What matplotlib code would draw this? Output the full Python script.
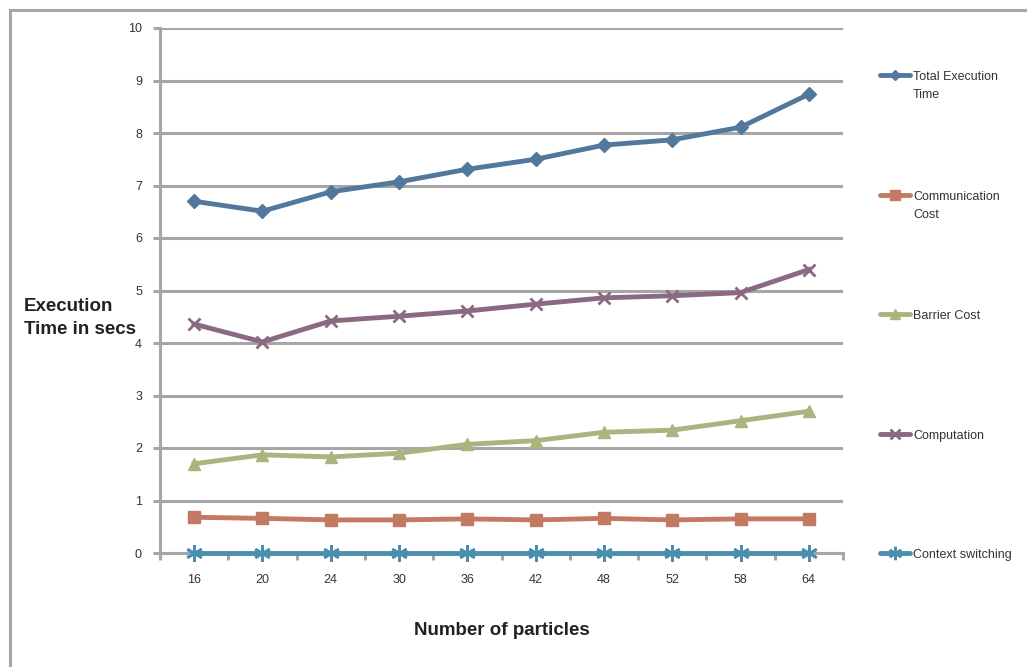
import matplotlib.pyplot as plt
from matplotlib.patches import Rectangle
from matplotlib.lines import Line2D

plt.rcParams["font.family"] = ["Liberation Sans", "DejaVu Sans"]

particles = ["16", "20", "24", "30", "36", "42", "48", "52", "58", "64"]
total_exec = [6.70, 6.51, 6.88, 7.07, 7.31, 7.50, 7.77, 7.87, 8.11, 8.74]
comm_cost = [0.68, 0.66, 0.63, 0.63, 0.65, 0.63, 0.66, 0.63, 0.65, 0.65]
barrier_cost = [1.70, 1.87, 1.83, 1.90, 2.07, 2.14, 2.30, 2.34, 2.52, 2.70]
computation = [4.36, 4.02, 4.42, 4.51, 4.61, 4.74, 4.86, 4.90, 4.96, 5.40]
context_sw = [0.0] * 10

series = [
    ("Total Execution\nTime", total_exec, "#52789e", "D", 7),
    ("Communication\nCost", comm_cost, "#c27a62", "s", 9),
    ("Barrier Cost", barrier_cost, "#a8b57f", "^", 9),
    ("Computation", computation, "#8a6a80", "x", 9),
    ("Context switching", context_sw, "#4a8fae", (6, 2, 0), 12),
]

W, H = 1027, 667
fig = plt.figure(figsize=(W / 100, H / 100), dpi=100)
ax = fig.add_axes([160 / W, 1 - 553 / H, 683 / W, 525 / H])

# outer chart frame
fig.add_artist(Rectangle((10 / W, -0.1), 1.2, 1 - 10 / H + 0.1,
                         transform=fig.transFigure, fill=False,
                         edgecolor="#a6a6a6", linewidth=2.2))

x = [i + 0.5 for i in range(len(particles))]
for label, vals, color, marker, ms in series:
    ax.plot(x, vals, color=color, linewidth=3.5, marker=marker,
            markersize=ms, markeredgewidth=2 if marker in ("x", (6, 2, 0)) else 1,
            markeredgecolor=color, markerfacecolor=color,
            label=label, zorder=3, clip_on=False)

ax.set_xlim(0, 10)
ax.set_ylim(0, 10)
ax.set_yticks(range(0, 11))
ax.set_xticks(x)
ax.set_xticklabels(particles)
ax.set_xticks(range(0, 11), minor=True)
ax.tick_params(axis="x", which="major", length=0, pad=15, labelsize=9, labelcolor="#333333")
ax.tick_params(axis="x", which="minor", length=5, width=2.2, color="#a6a6a6", direction="out")
ax.tick_params(axis="y", length=5, width=2.2, color="#a6a6a6", pad=8, labelsize=9,
               labelcolor="#333333")

ax.grid(axis="y", color="#a6a6a6", linewidth=2.2)
ax.set_axisbelow(True)
for s in ["top", "right"]:
    ax.spines[s].set_visible(False)
for s in ["left", "bottom"]:
    ax.spines[s].set_color("#a6a6a6")
    ax.spines[s].set_linewidth(2.2)

ax.set_xlabel("Number of particles", fontsize=13.5, fontweight="bold", color="#222222",
              labelpad=26)
fig.text(24 / W, 1 - 318 / H, "Execution\nTime in secs", fontsize=13.5,
         fontweight="bold", color="#222222", ha="left", va="center", linespacing=1.5)

# legend: one entry per series, evenly spaced down the right side
for i, (label, vals, color, marker, ms) in enumerate(series):
    yc = 1 - (75 + i * 119.5) / H
    fig.add_artist(Line2D([880 / W, 910 / W], [yc, yc], transform=fig.transFigure,
                          color=color, linewidth=3.5, solid_capstyle="round"))
    fig.add_artist(Line2D([895 / W], [yc], transform=fig.transFigure, color=color,
                          marker=marker, markersize=ms * 0.8,
                          markeredgewidth=2 if marker in ("x", (6, 2, 0)) else 1,
                          markeredgecolor=color, markerfacecolor=color))
    fig.text(913 / W, yc + 4 / H, label, fontsize=9, color="#333333",
             ha="left", va="top", linespacing=1.7)

fig.savefig("out.png", dpi=100)
